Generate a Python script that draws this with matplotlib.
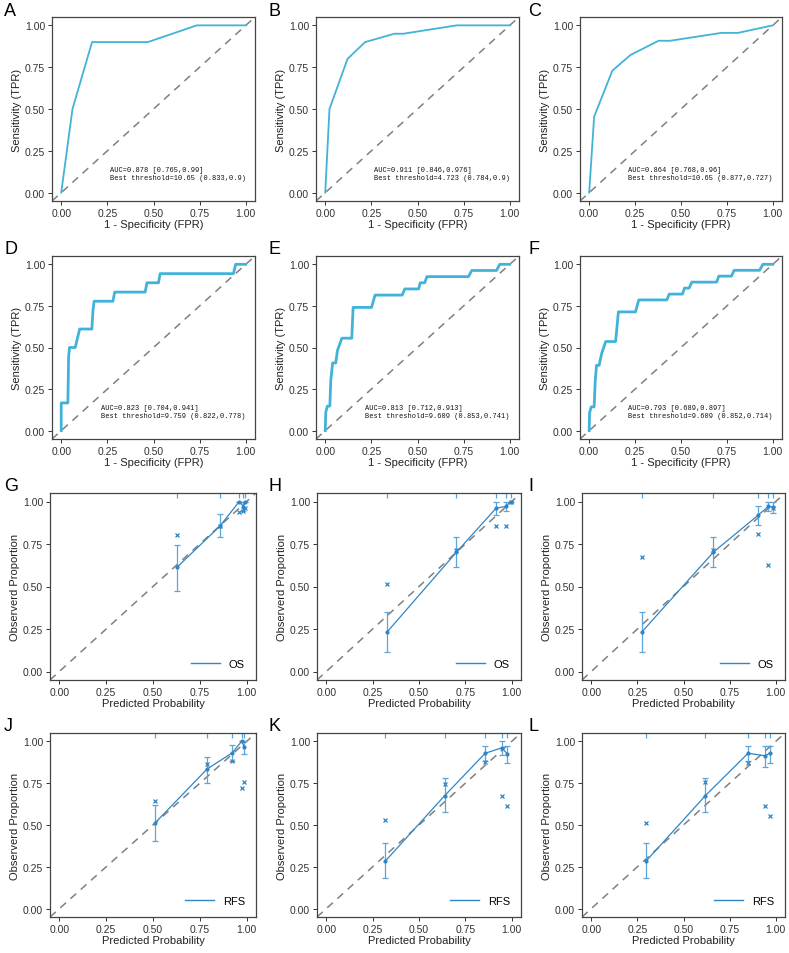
import numpy as np
import matplotlib.pyplot as plt
from matplotlib.lines import Line2D

plt.rcParams['font.family'] = ['Liberation Sans', 'DejaVu Sans']

# ---------------- ROC data (A-F) ----------------
fpr_A = [0, 0.061, 0.167, 0.469, 0.735, 1.0]
tpr_A = [0, 0.5, 0.9, 0.9, 1.0, 1.0]
fpr_B = [0, 0.023, 0.121, 0.216, 0.375, 0.423, 0.712, 1.0]
tpr_B = [0, 0.5, 0.80, 0.90, 0.95, 0.95, 1.0, 1.0]
fpr_C = [0, 0.027, 0.126, 0.225, 0.378, 0.441, 0.72, 0.81, 1.0]
tpr_C = [0, 0.454, 0.729, 0.823, 0.908, 0.908, 0.955, 0.955, 1.0]
fpr_D = [0, 0, 0.036, 0.040, 0.045, 0.076, 0.088, 0.10, 0.166, 0.172, 0.178,
         0.28, 0.29, 0.455, 0.464, 0.527, 0.536, 0.933, 0.945, 1.0]
tpr_D = [0, 0.167, 0.167, 0.444, 0.5, 0.5, 0.556, 0.611, 0.611, 0.722, 0.778,
         0.778, 0.833, 0.833, 0.889, 0.889, 0.944, 0.944, 1.0, 1.0]
fpr_E = [0, 0.003, 0.012, 0.025, 0.03, 0.04, 0.057, 0.066, 0.09, 0.144, 0.151,
         0.251, 0.27, 0.417, 0.431, 0.506, 0.515, 0.539, 0.551, 0.776, 0.794,
         0.928, 0.946, 1.0]
tpr_E = [0, 0.111, 0.148, 0.148, 0.30, 0.407, 0.407, 0.481, 0.556, 0.556, 0.741,
         0.741, 0.815, 0.815, 0.852, 0.852, 0.889, 0.889, 0.926, 0.926, 0.963,
         0.963, 1.0, 1.0]
fpr_F = [0, 0.002, 0.011, 0.027, 0.033, 0.04, 0.054, 0.068, 0.09, 0.144, 0.159,
         0.252, 0.27, 0.423, 0.436, 0.508, 0.519, 0.544, 0.559, 0.694, 0.706,
         0.775, 0.789, 0.928, 0.946, 1.0]
tpr_F = [0, 0.107, 0.143, 0.143, 0.30, 0.393, 0.393, 0.464, 0.536, 0.536, 0.714,
         0.714, 0.786, 0.786, 0.821, 0.821, 0.857, 0.857, 0.893, 0.893, 0.929,
         0.929, 0.964, 0.964, 1.0, 1.0]
roc_text = ["AUC=0.878 [0.765,0.99]\nBest threshold=10.65 (0.833,0.9)",
            "AUC=0.911 [0.846,0.976]\nBest threshold=4.723 (0.784,0.9)",
            "AUC=0.864 [0.768,0.96]\nBest threshold=10.65 (0.877,0.727)",
            "AUC=0.823 [0.704,0.941]\nBest threshold=9.759 (0.822,0.778)",
            "AUC=0.813 [0.712,0.913]\nBest threshold=9.609 (0.853,0.741)",
            "AUC=0.793 [0.689,0.897]\nBest threshold=9.609 (0.852,0.714)"]

# ---------------- calibration data (G-L) ----------------
pred_G = [0.629, 0.857, 0.961, 0.983, 0.993]
obs_G = [0.614, 0.855, 1.0, 0.97, 1.0]
lo_G = [0.476, 0.79, 1.0, 0.945, 1.0]
hi_G = [0.747, 0.925, 1.0, 1.0, 1.0]
cor_G = [0.804, 0.855, 0.937, 0.947, 0.96]

pred_H = [0.327, 0.702, 0.916, 0.968, 0.995]
obs_H = [0.231, 0.702, 0.961, 0.971, 1.0]
lo_H = [0.114, 0.613, 0.918, 0.945, 1.0]
hi_H = [0.349, 0.79, 1.0, 1.0, 1.0]
cor_H = [0.516, 0.716, 0.853, 0.853, 1.0]

pred_I = [0.273, 0.662, 0.903, 0.96, 0.987]
obs_I = [0.231, 0.702, 0.918, 0.971, 0.965]
lo_I = [0.114, 0.613, 0.86, 0.945, 0.93]
hi_I = [0.349, 0.79, 0.973, 1.0, 1.0]
cor_I = [0.673, 0.716, 0.806, 0.624, 0.96]

pred_J = [0.5125, 0.789, 0.923, 0.973, 0.988]
obs_J = [0.514, 0.835, 0.931, 1.0, 0.965]
lo_J = [0.402, 0.753, 0.88, 1.0, 0.925]
hi_J = [0.622, 0.908, 0.976, 1.0, 1.0]
cor_J = [0.645, 0.863, 0.88, 0.724, 0.755]

pred_K = [0.318, 0.639, 0.857, 0.946, 0.977]
obs_K = [0.284, 0.676, 0.929, 0.961, 0.925]
lo_K = [0.182, 0.576, 0.88, 0.92, 0.87]
hi_K = [0.39, 0.78, 0.975, 1.0, 0.975]
cor_K = [0.531, 0.743, 0.875, 0.671, 0.612]

pred_L = [0.297, 0.619, 0.85, 0.942, 0.968]
obs_L = [0.284, 0.676, 0.929, 0.914, 0.929]
lo_L = [0.182, 0.576, 0.88, 0.847, 0.87]
hi_L = [0.39, 0.78, 0.975, 0.97, 0.975]
cor_L = [0.514, 0.755, 0.871, 0.612, 0.553]

ticks = [0, 0.25, 0.5, 0.75, 1.0]
tick_labels = ["0.00", "0.25", "0.50", "0.75", "1.00"]

roc_col = '#41B3D9'
cal_col = '#2F86C6'
W, H = 789, 954


def make_ax(fig, l, r, t, b):
    # pixel box -> figure fraction
    ax = fig.add_axes([l / W, 1 - b / H, (r - l) / W, (b - t) / H])
    ax.set_xlim(-0.05, 1.05)
    ax.set_ylim(-0.05, 1.05)
    ax.set_xticks(ticks)
    ax.set_xticklabels(tick_labels)
    ax.set_yticks(ticks)
    ax.set_yticklabels(tick_labels)
    ax.tick_params(direction='out', length=3, width=0.7, colors='#333333',
                   labelsize=7.5, pad=2)
    for s in ax.spines.values():
        s.set_color('#444444')
        s.set_linewidth(0.9)
    ax.axline((0, 0), (1, 1), color='#808080', lw=1.1, ls=(0, (5, 4)), zorder=1)
    return ax


def draw_roc(ax, fpr, tpr, txt, lw):
    ax.plot(fpr, tpr, color=roc_col, lw=lw, zorder=3)
    ax.text(1.0, 0.115, txt, ha='right', va='center', multialignment='left',
            family='Liberation Mono', fontsize=5, color='#111111')
    ax.set_xlabel('1 - Specificity (FPR)', fontsize=8, color='#222222', labelpad=1)
    ax.set_ylabel('Sensitivity (TPR)', fontsize=8, color='#222222', labelpad=2)


def draw_cal(ax, pred, obs, lo, hi, cor, name):
    ax.plot(pred, obs, color=cal_col, lw=0.9, marker='o', ms=2, zorder=3)
    ax.errorbar(pred, obs, yerr=[np.array(obs) - np.array(lo), np.array(hi) - np.array(obs)],
                fmt='none', ecolor='#5BA5DA', elinewidth=0.9, capsize=2.5, capthick=0.9, zorder=2)
    ax.plot(pred, cor, ls='none', marker='x', ms=3.5, mew=0.9, color=cal_col, zorder=3)
    ax.vlines(pred, 1.02, 1.05, color='#5BA5DA', lw=0.9, zorder=2)
    handle = Line2D([], [], color=cal_col, lw=1.0)
    ax.legend([handle], [name], loc='lower right', frameon=False, fontsize=8,
              handlelength=2.6, borderaxespad=0.6)
    ax.set_xlabel('Predicted Probability', fontsize=8, color='#222222', labelpad=1)
    ax.set_ylabel('Observerd Proportion', fontsize=8, color='#222222', labelpad=2)


def main():
    fig = plt.figure(figsize=(W / 100, H / 100), dpi=100)
    cols_roc = [(52, 255), (316, 519), (580, 782)]
    cols_cal = [(50, 256), (317, 521), (582, 785)]
    rows = [(18, 202), (257, 440), (494, 681), (734, 918)]

    roc_data = [(fpr_A, tpr_A), (fpr_B, tpr_B), (fpr_C, tpr_C),
                (fpr_D, tpr_D), (fpr_E, tpr_E), (fpr_F, tpr_F)]
    cal_data = [(pred_G, obs_G, lo_G, hi_G, cor_G, 'OS'),
                (pred_H, obs_H, lo_H, hi_H, cor_H, 'OS'),
                (pred_I, obs_I, lo_I, hi_I, cor_I, 'OS'),
                (pred_J, obs_J, lo_J, hi_J, cor_J, 'RFS'),
                (pred_K, obs_K, lo_K, hi_K, cor_K, 'RFS'),
                (pred_L, obs_L, lo_L, hi_L, cor_L, 'RFS')]
    letters = "ABCDEFGHIJKL"
    letter_x = [4, 268, 528]

    for i in range(12):
        r, c = i // 3, i % 3
        t, b = rows[r]
        if r < 2:
            l, rr = cols_roc[c]
            ax = make_ax(fig, l, rr, t, b)
            fpr, tpr = roc_data[i]
            draw_roc(ax, fpr, tpr, roc_text[i], 1.3 if r == 0 else 2.0)
        else:
            l, rr = cols_cal[c]
            ax = make_ax(fig, l, rr, t, b)
            draw_cal(ax, *cal_data[i - 6])
        fig.text(letter_x[c] / W, 1 - (t - 7) / H, letters[i], fontsize=13,
                 ha='left', va='center', color='black')

    plt.savefig('out.png', dpi=100)


if __name__ == '__main__':
    main()
